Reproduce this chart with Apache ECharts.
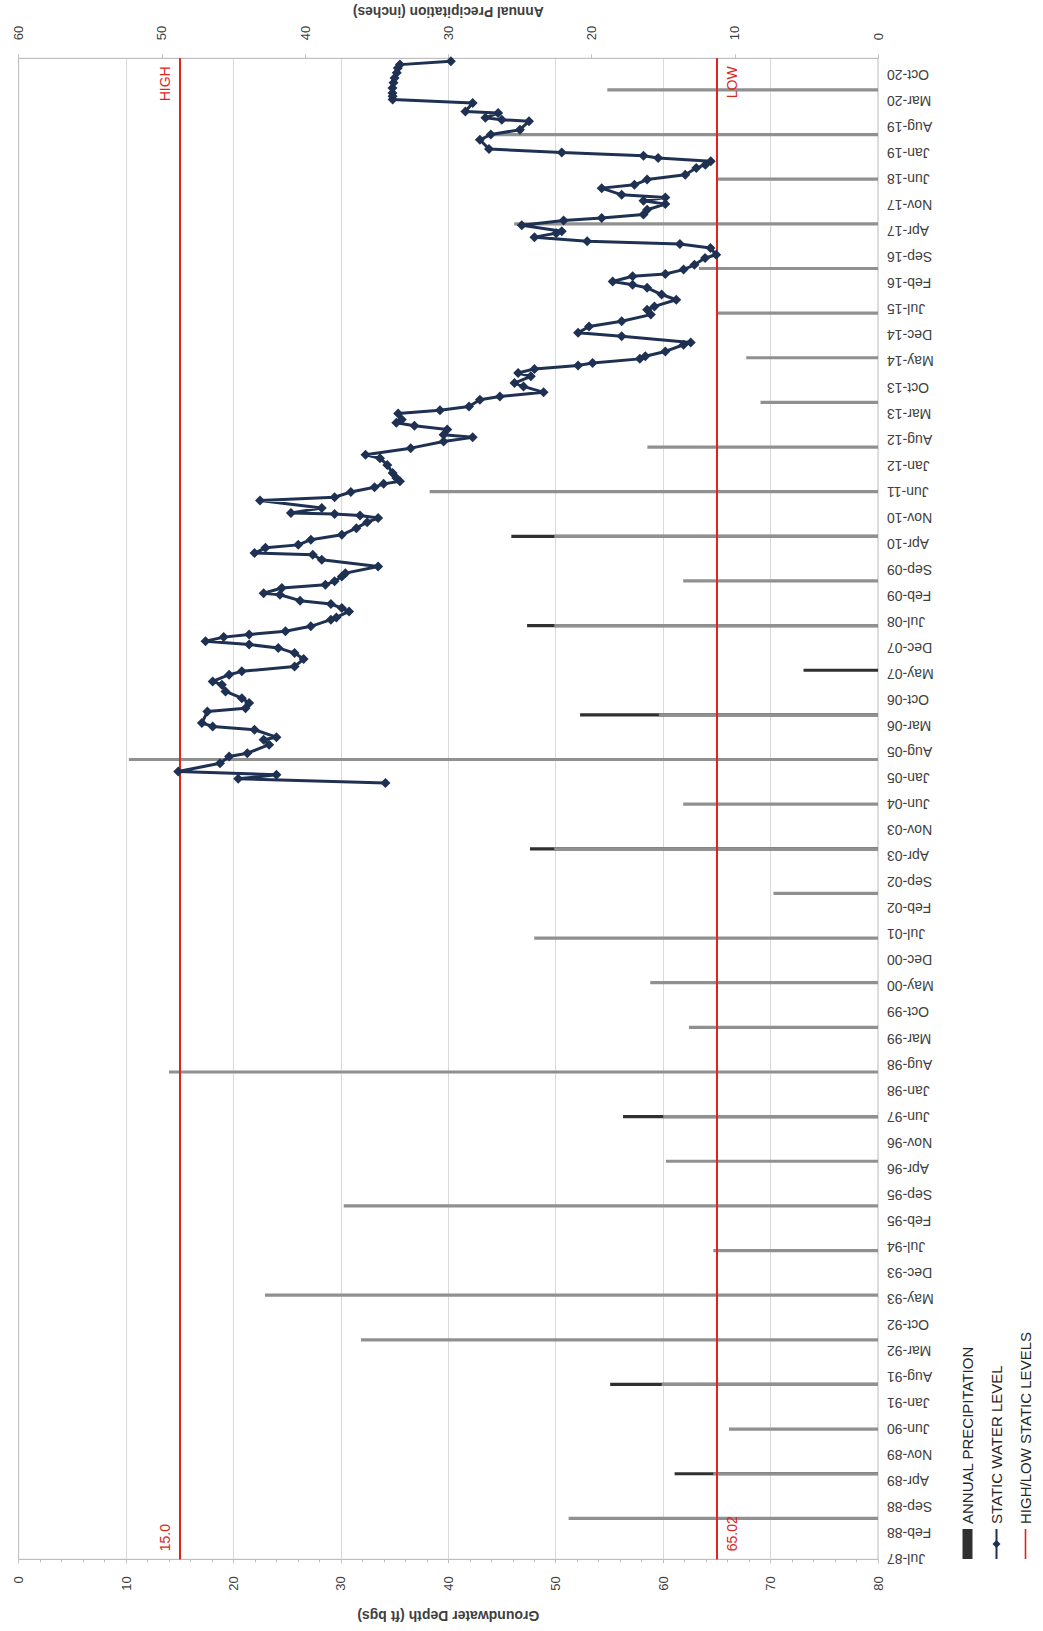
<!DOCTYPE html>
<html>
<head>
<meta charset="utf-8">
<script src="https://cdn.jsdelivr.net/npm/echarts@6/dist/echarts.min.js"></script>
<style>
  html, body { margin:0; padding:0; background:#fff; overflow:hidden; }
  #wrap { position:absolute; left:0; top:0; width:1043px; height:1631px; overflow:hidden; background:#fff; }
  #chart { position:absolute; left:0; top:0; width:1631px; height:1043px;
           transform-origin:0 0; transform:translate(0px,1631px) rotate(-90deg); }
</style>
</head>
<body>
<div id="wrap"><div id="chart"></div></div>
<script>
// ---------- DATA ----------
const MONTH_NAMES = ['Jan','Feb','Mar','Apr','May','Jun','Jul','Aug','Sep','Oct','Nov','Dec'];
const axisStartYear = 1987;          // date axis starts Jul-87 (month index 0)
const axisStartMonth = 6;            // July (0-based)
const dateTickInterval = 7;          // label every 7 months
const dateAxisMax = 403.5;           // months after Jul-87

const highLevel = 15.0;
const lowLevel = 65.02;

// Annual precipitation (inches), one bar per year (plotted mid-year)
const precipYears = [1988,1989,1990,1991,1992,1993,1994,1995,1996,1997,1998,1999,2000,2001,2002,2003,2004,
                     2005,2006,2007,2008,2009,2010,2011,2012,2013,2014,2015,2016,2017,2018,2019,2020];
// grey part of each bar
const precipLight = [21.6,11.5,10.4,15.1,36.1,42.8,11.5,37.3,14.8,15.0,49.5,13.2,15.9,24.0,7.3,22.6,13.6,
                     52.3,15.3,0.0,22.6,13.6,22.6,31.3,16.1,8.2,9.2,11.3,12.5,25.4,11.3,27.0,18.9];
// total bar length where a dark segment extends beyond the grey part (0 = none)
const precipDarkTotal = [0,14.2,0,18.7,0,0,0,0,0,17.8,0,0,0,0,0,24.3,0,
                         0,20.8,5.2,24.5,0,25.6,0,0,0,0,0,0,0,0,0,0];

// Static water level: months after Jul-87 and depth (ft bgs)
const wlMonths = [208.7,209.8,210.9,211.8,214.0,215.8,216.7,219.0,220.3,221.0,223.0,223.9,224.8,227.9,228.8,230.2,
  231.5,233.3,235.1,236.0,237.8,238.7,240.0,242.0,243.6,245.0,245.9,246.8,247.9,248.6,249.5,
  250.8,252.6,253.2,254.8,255.7,256.8,257.7,259.3,259.7,261.1,262.0,262.9,264.2,265.1,266.9,268.7,270.05,
  270.5,271.9,272.7,274.1,275.4,277.2,278.8,279.9,280.6,281.0,281.3,282.6,284.6,285.5,286.9,288.2,
  289.1,289.8,290.7,292.0,294.2,296.0,296.9,298.7,300.5,301.6,302.3,303.7,304.7,305.5,306.4,308.0,
  308.9,309.9,311.7,312.6,313.7,315.3,316.2,318.0,318.9,320.0,320.9,321.6,322.7,323.4,324.7,326.5,327.1,
  328.8,329.7,331.4,332.8,334.6,335.9,336.8,338.6,340.0,341.8,342.6,343.5,344.9,345.5,346.7,348.0,
  349.8,350.7,352.5,353.6,354.3,355.4,356.5,357.0,358.6,359.9,360.6,361.5,362.8,364.3,365.2,366.1,
  366.8,368.6,369.5,370.9,372.2,374.0,374.9,375.8,376.7,377.3,378.2,379.1,381.6,383.0,384.3,386.6,
  387.0,387.5,388.8,389.2,391.5,392.4,393.3,394.2,395.5,396.9,398.2,399.6,400.9,401.8,402.7];
const wlDepth = [34.15,20.44,24.0,14.86,18.75,19.6,21.29,23.32,22.81,24.0,21.96,18.07,17.06,17.57,21.12,21.46,
  20.78,19.26,18.92,18.07,19.6,20.78,25.69,26.53,25.69,24.17,21.46,17.4,19.09,21.46,24.84,
  27.2,29.07,29.58,30.76,30.09,29.07,26.2,24.33,22.81,24.5,28.56,29.41,30.09,30.42,33.47,28.22,27.38,
  21.96,22.98,26.03,27.21,30.09,31.44,32.45,33.47,31.78,29.41,25.35,28.22,22.47,29.41,30.93,33.13,
  33.98,35.5,35.16,34.82,34.32,33.64,32.29,36.5,39.56,42.27,39.56,39.9,36.85,35.16,35.67,35.33,
  39.22,41.93,42.94,44.8,48.87,47.0,46.16,47.68,46.5,48.02,52.08,53.43,57.83,58.34,60.2,61.9,62.57,
  56.14,52.08,53.1,56.14,58.85,58.51,59.19,61.22,59.86,58.51,57.16,55.3,57.16,60.2,61.9,62.91,
  63.9,64.94,64.4,61.56,52.93,48.02,50.05,50.56,46.84,50.73,54.28,58.17,58.51,60.2,58.17,60.2,
  56.14,54.28,57.33,58.51,62.06,63.08,63.93,64.43,59.53,58.17,50.56,43.79,42.94,43.96,46.67,47.51,
  44.98,43.45,44.64,41.59,42.27,34.82,34.82,34.8,34.8,34.9,35.0,35.2,35.3,35.5,40.24];

// ---------- BUILD ----------
function yearToMonthIndex(y) { return (y - axisStartYear) * 12 - 1; } // June of that year
const lightData = precipYears.map((y, i) => [yearToMonthIndex(y), precipLight[i]]);
const darkData  = precipYears.map((y, i) => [yearToMonthIndex(y), precipDarkTotal[i]]);
const wlData = wlMonths.map((m, i) => [m, wlDepth[i]]);

function dateLabel(v) {
  if (Math.abs(v % dateTickInterval) > 1e-6) return '';
  const total = axisStartMonth + Math.round(v);
  const yr = axisStartYear + Math.floor(total / 12);
  return MONTH_NAMES[total % 12] + '-' + String(yr % 100).padStart(2, '0');
}

const FONT = '"Liberation Sans", Arial, sans-serif';
const GRID_GRAY = '#d9d9d9';
const AXIS_GRAY = '#bfbfbf';
const TXT = '#404040';
const RED = '#e0231c';
const NAVY = '#1f3152';
// legend icon: thin horizontal line inside a 30x10 box (tiny corner specks keep the box size)
const LINE_ICON = 'path://M0,0L0.01,0L0,0.01Z M0,4.2L30,4.2L30,5.8L0,5.8Z M30,10L29.99,10L30,9.99Z';

const chart = echarts.init(document.getElementById('chart'), null, {renderer:'svg', width:1631, height:1043});
chart.setOption({
  animation: false,
  backgroundColor: '#fff',
  textStyle: { fontFamily: FONT },
  grid: { left: 71.7, right: 58.3, top: 18.6, bottom: 165, show: true, borderColor: AXIS_GRAY, borderWidth: 1,
          containLabel: false, outerBoundsMode: 'none' },
  legend: {
    orient: 'vertical', left: 66, top: 955, itemWidth: 30, itemHeight: 10, itemGap: 14,
    textStyle: { fontSize: 15, color: '#262626', fontFamily: FONT },
    data: [ {name:'ANNUAL PRECIPITATION', icon:'rect'}, {name:'STATIC WATER LEVEL'},
            {name:'HIGH/LOW STATIC LEVELS', icon: LINE_ICON} ]
  },
  xAxis: {
    type: 'value', min: 0, max: dateAxisMax, interval: dateTickInterval,
    axisLine: { show: true, lineStyle: { color: AXIS_GRAY } },
    axisTick: { show: false },
    splitLine: { show: false },
    axisLabel: { rotate: 90, margin: 9, fontSize: 14, color: TXT, fontFamily: FONT, formatter: dateLabel,
                 showMaxLabel: false }
  },
  yAxis: [
    {
      type: 'value', inverse: true, min: 0, max: 80, interval: 10, position: 'left',
      name: 'Groundwater Depth (ft bgs)', nameLocation: 'middle', nameRotate: 90, nameGap: 50,
      nameMoveOverlap: false,
      nameTextStyle: { fontSize: 14, fontWeight: 'bold', color: TXT, fontFamily: FONT },
      axisLine: { show: true, lineStyle: { color: AXIS_GRAY } },
      axisTick: { show: true, length: 4, lineStyle: { color: AXIS_GRAY } },
      minorTick: { show: true, splitNumber: 5, length: 3, lineStyle: { color: AXIS_GRAY } },
      splitLine: { show: true, lineStyle: { color: GRID_GRAY, width: 1 } },
      axisLabel: { margin: 17, fontSize: 13, color: TXT, fontFamily: FONT }
    },
    {
      type: 'value', min: 0, max: 60, interval: 10, position: 'right',
      name: 'Annual Precipitation (inches)', nameLocation: 'middle', nameRotate: 90, nameGap: 40,
      nameMoveOverlap: false,
      nameTextStyle: { fontSize: 13.8, fontWeight: 'bold', color: TXT, fontFamily: FONT },
      axisLine: { show: true, lineStyle: { color: AXIS_GRAY } },
      axisTick: { show: true, length: 4, lineStyle: { color: AXIS_GRAY } },
      splitLine: { show: false },
      axisLabel: { margin: 18, fontSize: 13, color: TXT, fontFamily: FONT }
    }
  ],
  series: [
    {
      name: 'ANNUAL PRECIPITATION', type: 'bar', yAxisIndex: 1, barWidth: 3.2, barGap: '-100%',
      itemStyle: { color: '#303030' }, data: darkData, z: 1
    },
    {
      name: 'precip-grey', type: 'bar', yAxisIndex: 1, barWidth: 3.2, barGap: '-100%',
      itemStyle: { color: '#909090' }, data: lightData, z: 2
    },
    {
      name: 'STATIC WATER LEVEL', type: 'line', yAxisIndex: 0, data: wlData,
      symbol: 'diamond', symbolSize: 10, showAllSymbol: true,
      lineStyle: { color: NAVY, width: 3 }, itemStyle: { color: NAVY }, z: 5,
      markLine: {
        silent: true, symbol: 'none', animation: false,
        lineStyle: { color: RED, width: 2, type: 'solid' },
        label: { color: RED, fontSize: 14, fontFamily: FONT, distance: 8 },
        emphasis: { disabled: true },
        data: [
          { yAxis: highLevel, label: { formatter: highLevel.toFixed(1), position: 'insideStartTop' } },
          { yAxis: highLevel, label: { formatter: 'HIGH', position: 'insideEndTop' } },
          { yAxis: lowLevel, label: { formatter: String(lowLevel), position: 'insideStartBottom' } },
          { yAxis: lowLevel, label: { formatter: 'LOW', position: 'insideEndBottom' } }
        ]
      }
    },
    {
      name: 'HIGH/LOW STATIC LEVELS', type: 'line', yAxisIndex: 0, data: [], symbol: 'none',
      lineStyle: { color: RED, width: 2 }, itemStyle: { color: RED }
    }
  ]
});
</script>
</body>
</html>
